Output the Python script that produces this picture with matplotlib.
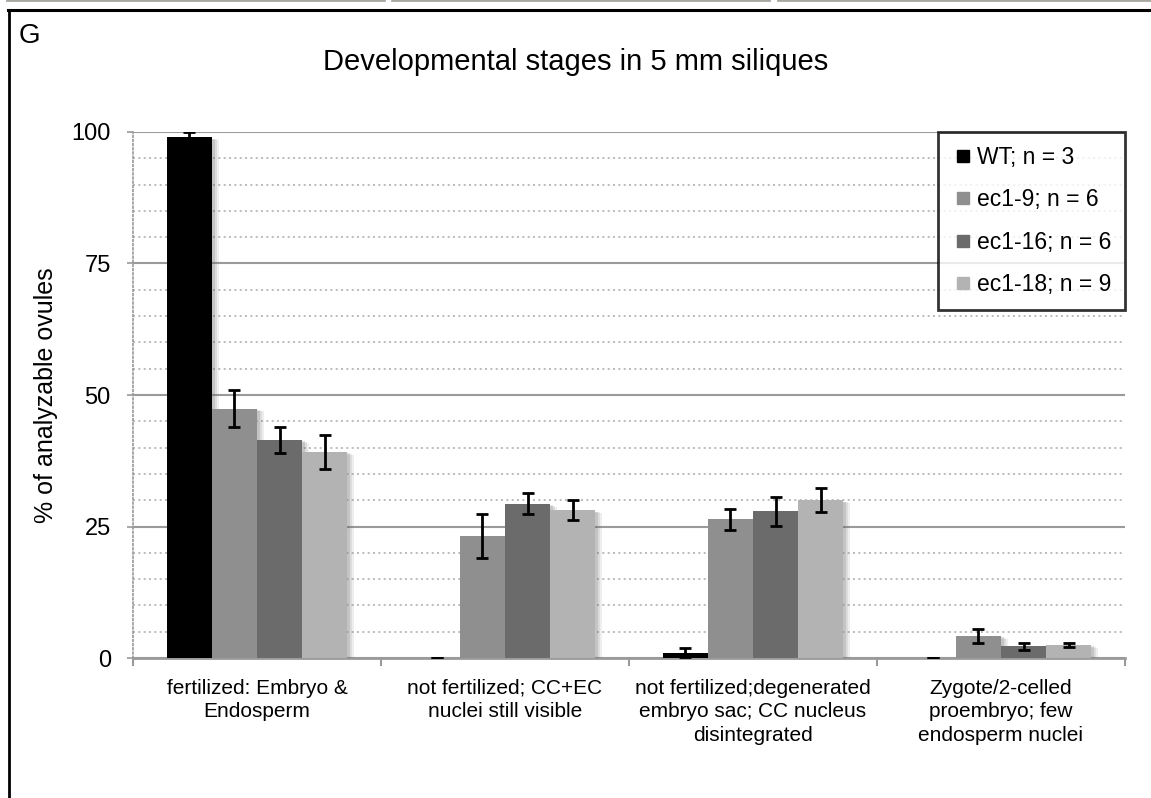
import numpy as np
import matplotlib.pyplot as plt
import matplotlib.patheffects as pe
from matplotlib.lines import Line2D

plt.rcParams['font.family'] = ['Liberation Sans', 'DejaVu Sans']

# data
categories = ['fertilized: Embryo &\nEndosperm',
              'not fertilized; CC+EC\nnuclei still visible',
              'not fertilized;degenerated\nembryo sac; CC nucleus\ndisintegrated',
              'Zygote/2-celled\nproembryo; few\nendosperm nuclei']
series = ['WT; n = 3', 'ec1-9; n = 6', 'ec1-16; n = 6', 'ec1-18; n = 9']
wt = [99.0, 0.0, 0.9, 0.0]
wt_err = [1.0, 0.0, 1.1, 0.0]
ec1_9 = [47.4, 23.2, 26.4, 4.2]
ec1_9_err = [3.5, 4.2, 2.0, 1.3]
ec1_16 = [41.5, 29.3, 27.9, 2.2]
ec1_16_err = [2.5, 2.0, 2.8, 0.6]
ec1_18 = [39.2, 28.1, 30.0, 2.5]
ec1_18_err = [3.2, 1.9, 2.3, 0.4]
yticks = [0, 25, 50, 75, 100]

values = [wt, ec1_9, ec1_16, ec1_18]
errors = [wt_err, ec1_9_err, ec1_16_err, ec1_18_err]
colors = ['#000000', '#8f8f8f', '#6b6b6b', '#b3b3b3']

fig = plt.figure(figsize=(11.51, 7.98), dpi=100)

# panel frame and photo strip on top
fig.add_artist(Line2D([0.007, 1.0], [0.9875, 0.9875], color='black', lw=2.2,
                      transform=fig.transFigure))
fig.add_artist(Line2D([0.008, 0.008], [0.0, 0.9875], color='black', lw=2.0,
                      transform=fig.transFigure))
for x0, x1 in [(0.006, 0.334), (0.341, 0.668), (0.676, 1.0)]:
    fig.add_artist(Line2D([x0, x1], [0.9995, 0.9995], color='#a8a8a0', lw=2,
                          transform=fig.transFigure))

ax = fig.add_axes([0.1156, 0.1754, 0.8618, 0.6592])

x = np.arange(len(categories))
bw = 0.182
shadow = [pe.SimplePatchShadow(offset=(5, -2), shadow_rgbFace='#777777', alpha=0.12),
          pe.SimplePatchShadow(offset=(3.5, -1.5), shadow_rgbFace='#777777', alpha=0.15),
          pe.SimplePatchShadow(offset=(2, -1), shadow_rgbFace='#666666', alpha=0.2),
          pe.Normal()]
for i, (vals, errs) in enumerate(zip(values, errors)):
    pos = x + (i - 1.5) * bw
    bars = ax.bar(pos, vals, width=bw, color=colors[i], zorder=3, label=series[i])
    for b in bars:
        b.set_path_effects(shadow)
    ax.errorbar(pos, vals, yerr=errs, fmt='none', ecolor='black', elinewidth=2,
                capsize=4.5, capthick=2, zorder=4)

ax.set_xlim(-0.5, len(categories) - 0.5)
ax.set_ylim(0, 100)
ax.set_yticks(yticks)
ax.set_yticks(np.arange(0, 101, 5), minor=True)
ax.yaxis.grid(True, which='major', color='#9a9a9a', lw=1.5, zorder=0)
ax.yaxis.grid(True, which='minor', color='#b0b0b0', lw=1.2, linestyle=(0, (1.2, 2)), zorder=0)
ax.set_xticks(x)
ax.set_xticklabels(categories, fontsize=15, linespacing=1.3)
ax.set_xticks(np.arange(-0.5, len(categories), 1), minor=True)
ax.tick_params(axis='x', which='major', length=0, pad=15)
ax.tick_params(axis='x', which='minor', length=6, width=1.5, color='#9a9a9a')
ax.tick_params(axis='y', which='major', length=4, width=1.2, color='#9a9a9a',
               labelsize=17, pad=12)
ax.tick_params(axis='y', which='minor', length=0)

for s in ['top', 'right']:
    ax.spines[s].set_visible(False)
ax.spines['bottom'].set_color('#9a9a9a')
ax.spines['bottom'].set_linewidth(2)
ax.spines['left'].set_color('#9a9a9a')
ax.spines['left'].set_linewidth(1.2)
ax.spines['left'].set_linestyle((0, (1, 1.5)))

ax.set_ylabel('% of analyzable ovules', fontsize=18, labelpad=10)

handles = [Line2D([], [], marker='s', linestyle='none', markersize=8,
                  markerfacecolor=c, markeredgecolor=c) for c in colors]
leg = ax.legend(handles, series, loc='upper right', bbox_to_anchor=(1.0, 1.0),
                fontsize=16.5, frameon=True, fancybox=False, edgecolor='black',
                labelspacing=0.85, handlelength=1.0, handletextpad=0.1,
                borderpad=0.6, borderaxespad=0)
leg.get_frame().set_linewidth(2)
leg.set_zorder(5)

fig.text(0.5, 0.912, 'Developmental stages in 5 mm siliques', ha='center',
         va='baseline', fontsize=21)
fig.text(0.016, 0.946, 'G', ha='left', va='baseline', fontsize=20)

fig.savefig('out.png', dpi=100)
